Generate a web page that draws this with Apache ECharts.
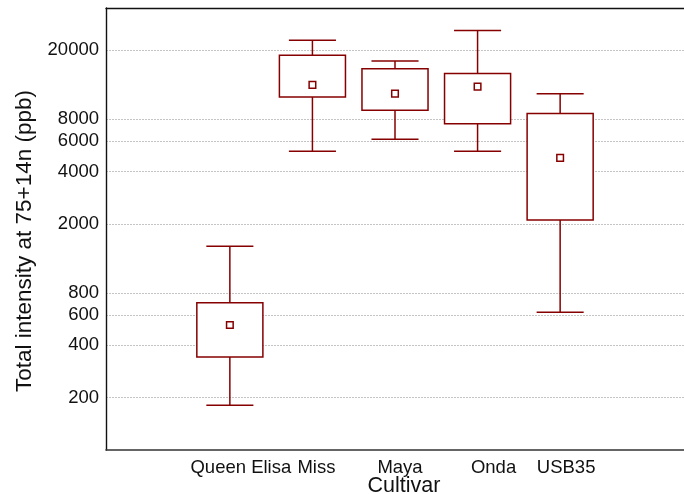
<!DOCTYPE html>
<html>
<head>
<meta charset="utf-8">
<script src="https://cdn.jsdelivr.net/npm/echarts@6/dist/echarts.min.js"></script>
<style>
  html, body { margin: 0; padding: 0; background: #fff; }
  #chart { width: 684px; height: 494px; }
</style>
</head>
<body>
<div id="chart"></div>
<script>
// Cultivars shown on the x axis
const cultivars = ['Queen Elisa', 'Miss', 'Maya', 'Onda', 'USB35'];

// Box-plot statistics per cultivar (ppb)
const whiskerLow  = [181, 5240, 6140, 5240, 620];
const boxLow      = [343, 10770, 9020, 7560, 2110];
const boxHigh     = [705, 18690, 15670, 14670, 8660];
const whiskerHigh = [1490, 22800, 17360, 25940, 11250];
const means       = [524, 12630, 11250, 12340, 4800];

// Labelled y-axis ticks (log scale)
const yTicks = [200, 400, 600, 800, 2000, 4000, 6000, 8000, 20000];

const RED = '#860000';
const FONT = '"Liberation Sans", Arial, Helvetica, sans-serif';

// Axis slots: one empty slot on each side of the cultivars
const slots = [''].concat(cultivars, ['']);
// Horizontal nudge (px) of each cultivar label
const labelNudge = [11, 4, 5, 16, 6];

const rows = cultivars.map((c, k) => [k + 1, whiskerLow[k], boxLow[k], boxHigh[k], whiskerHigh[k], means[k]]);

const chart = echarts.init(document.getElementById('chart'), null, { renderer: 'canvas' });

chart.setOption({
  animation: false,
  backgroundColor: '#fff',
  grid: { left: 106, top: 8, width: 588, height: 442, containLabel: false },
  xAxis: [
    {
      type: 'category',
      position: 'bottom',
      data: slots.map((s, i) => {
        if (i === 0 || i === slots.length - 1) return s;
        const n = labelNudge[i - 1];
        return { value: s, textStyle: { padding: [0, 0, 0, 2 * n] } };
      }),
      boundaryGap: true,
      axisLine: { lineStyle: { color: '#333', width: 1.6 } },
      axisTick: { inside: true, alignWithLabel: true, interval: 0, length: 4, lineStyle: { color: '#222', width: 1 } },
      axisLabel: { interval: 0, margin: 8, fontFamily: FONT, fontSize: 18.5, color: '#111' },
      splitLine: { show: false }
    },
    {
      type: 'category',
      position: 'top',
      data: slots,
      boundaryGap: true,
      axisLine: { lineStyle: { color: '#111', width: 1.4 } },
      axisTick: { inside: true, alignWithLabel: true, interval: 0, length: 4, lineStyle: { color: '#222', width: 1 } },
      axisLabel: { show: false },
      splitLine: { show: false }
    }
  ],
  yAxis: {
    type: 'log',
    logBase: 10,
    min: 100,
    max: 35000,
    axisLine: { show: true, lineStyle: { color: '#111', width: 1.4 } },
    axisTick: { show: false, customValues: yTicks },
    axisLabel: {
      customValues: yTicks,
      margin: 7,
      fontFamily: FONT,
      fontSize: 18.5,
      color: '#111',
      formatter: v => String(Math.round(v))
    },
    splitLine: { show: true, lineStyle: { color: '#c4c4c4', type: [2, 1], width: 1 } },
    minorTick: { show: false },
    minorSplitLine: { show: false }
  },
  graphic: [
    {
      type: 'text',
      x: 25, y: 241,
      rotation: Math.PI / 2,
      style: {
        text: 'Total intensity at 75+14n (ppb)',
        font: '22.5px ' + FONT,
        fill: '#111',
        align: 'center',
        verticalAlign: 'middle'
      }
    },
    {
      type: 'text',
      x: 404, y: 486,
      style: {
        text: 'Cultivar',
        font: '21.5px ' + FONT,
        fill: '#111',
        align: 'center',
        verticalAlign: 'middle'
      }
    }
  ],
  series: [
    {
      type: 'custom',
      xAxisIndex: 0,
      data: rows,
      encode: { x: 0, y: [1, 2, 3, 4, 5] },
      renderItem: function (params, api) {
        const i = api.value(0);
        const lo = api.coord([i, api.value(1)]);
        const q1 = api.coord([i, api.value(2)]);
        const q3 = api.coord([i, api.value(3)]);
        const hi = api.coord([i, api.value(4)]);
        const mn = api.coord([i, api.value(5)]);
        const band = api.size([1, 0], [i, api.value(3)])[0];
        const x = lo[0];
        const boxW = band * 0.8;
        const capW = band * 0.57;
        const line = { stroke: RED, lineWidth: 1.5, fill: null };
        const m = 3.3;
        return {
          type: 'group',
          children: [
            { type: 'line', shape: { x1: x, y1: lo[1], x2: x, y2: q1[1] }, style: line },
            { type: 'line', shape: { x1: x, y1: q3[1], x2: x, y2: hi[1] }, style: line },
            { type: 'line', shape: { x1: x - capW / 2, y1: lo[1], x2: x + capW / 2, y2: lo[1] }, style: line },
            { type: 'line', shape: { x1: x - capW / 2, y1: hi[1], x2: x + capW / 2, y2: hi[1] }, style: line },
            { type: 'rect', shape: { x: x - boxW / 2, y: q3[1], width: boxW, height: q1[1] - q3[1] },
              style: { stroke: RED, lineWidth: 1.5, fill: '#fff' } },
            { type: 'rect', shape: { x: x - m, y: mn[1] - m, width: 2 * m, height: 2 * m },
              style: { stroke: RED, lineWidth: 1.5, fill: '#fff' } }
          ]
        };
      }
    }
  ]
});
</script>
</body>
</html>
